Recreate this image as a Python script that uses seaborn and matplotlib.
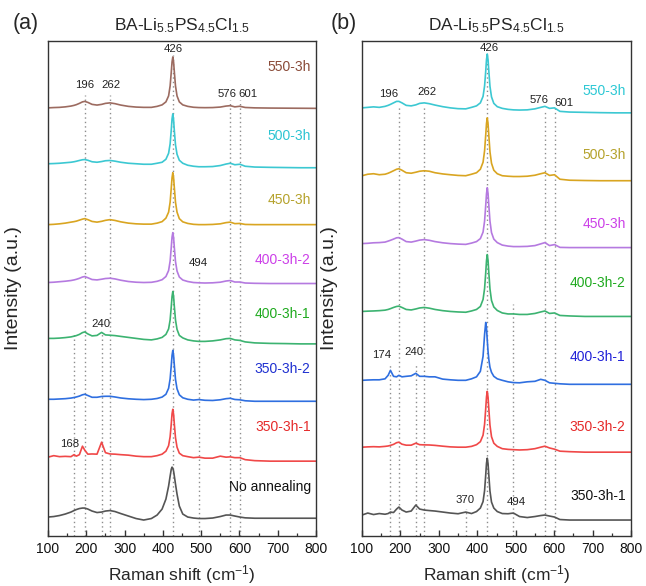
import matplotlib
matplotlib.use("Agg")
import numpy as np
import matplotlib.pyplot as plt
import seaborn as sns

# Raman shift grid (cm^-1) shared by every spectrum
raman_shift = [100, 115, 130, 145, 160, 168, 174, 182, 190, 196,
               204, 215, 228, 240, 250, 262, 275, 290, 310, 330,
               350, 370, 385, 398, 408, 415, 419, 422, 424, 426,
               428, 430, 433, 437, 443, 452, 465, 480, 494, 510,
               530, 550, 565, 576, 588, 601, 615, 640, 680, 720,
               760, 800]

# ---- BA-Li5.5PS4.5Cl1.5 spectra (intensity above each trace's own baseline, a.u.)
ba_550 = [0, 0.3, 0.5, 1, 1.8, 2.5, 3.2, 4.5, 6, 6.5,
          5.5, 3.5, 2.8, 3.5, 4.5, 5, 4.2, 2.8, 1.5, 0.8,
          0.5, 0.5, 1.5, 3, 6, 12, 22, 36, 46, 51,
          46, 36, 22, 12, 6, 3, 1.5, 0.6, 0.3, 0.2,
          0.3, 0.8, 1.8, 2.2, 1, 1.6, 0.4, 0, -0.2, -0.3,
          -0.4, -0.5]
ba_500 = [0, 0.2, 0.5, 1, 1.5, 2, 2.5, 3.3, 4, 4.2,
          3.5, 2, 1.5, 2.2, 3, 3.3, 2.6, 1.5, 0.5, 0,
          -0.5, -0.5, 0.5, 1.5, 4.5, 10.5, 20, 34, 45, 50,
          44, 33, 19, 9.5, 3.5, 0.5, -1.5, -2.5, -3, -3,
          -2.8, -1.8, -0.3, 0.5, -1, -0.5, -2.5, -3.3, -3.6, -3.8,
          -4, -4]
ba_450 = [0, 0.3, 0.8, 1.5, 2.5, 3, 3.5, 4.5, 5.5, 6,
          5, 3.2, 2.5, 3.3, 4.3, 5, 4.2, 2.8, 1.5, 0.8,
          0.5, 0.5, 1.5, 3, 6.5, 12.5, 22.5, 37, 47, 52,
          47, 37, 22.5, 12.5, 6, 2.8, 1.2, 0.3, 0, 0,
          0.2, 0.8, 2, 2.5, 1, 1.2, 0.2, 0, 0, 0,
          0, 0]
ba_400_2 = [0, 0.3, 0.8, 1.3, 2, 2.6, 3.2, 4.2, 5.5, 6,
            4.8, 3, 2.6, 3.3, 4, 4.3, 3.6, 2.3, 1, 0.3,
            0, 0.2, 1.2, 2.8, 6, 12, 21.5, 35.5, 45.5, 50,
            45, 35, 21, 11.5, 5.5, 2.5, 1, 0, -0.3, -0.5,
            -0.3, 0.3, 1.5, 2, 0.5, 0.5, -0.5, -0.8, -1, -1,
            -1, -1]
ba_400_1 = [0, 0, 0.3, 0.8, 1.5, 2.2, 2.8, 4, 5.8, 6.5,
            4.5, 2.5, 3, 6, 3.5, 3.2, 2.8, 2, 1, 0,
            -1, -1.5, -0.5, 1, 4, 9.5, 18.5, 32, 42, 47,
            42, 32, 18.5, 9, 3, 0.5, -1.5, -2.5, -3, -3,
            -2.5, -1.5, -0.3, 0, -1.5, -2, -3.5, -4.5, -5, -5.2,
            -5.5, -5.5]
ba_350_2 = [0, 0, 0.3, 0.6, 1.2, 1.8, 2.3, 3.2, 4.5, 5,
            3.8, 2, 2, 2.8, 3, 3, 2.3, 1.3, 0.5, 0,
            -0.3, 0, 0.8, 2.2, 5, 11, 20.5, 34, 44, 49,
            44, 34, 20, 10.5, 4.5, 1.5, 0, -0.8, -0.3, -1,
            -1.2, -0.5, 0.6, 1, -0.2, -0.5, -1.5, -2, -2, -2,
            -2, -2]
ba_350_1 = [0, 1.5, 0.5, 0.8, 0.5, 2.5, 1, 2.5, 11, 7,
            3, 3.2, 3, 15, 4.5, 3.2, 3, 2.5, 2, 1,
            0.5, 0.5, 1.5, 3, 6, 11.5, 20.5, 33.5, 43.5, 48,
            43, 33, 19.5, 10, 4, 1.5, 0.5, -0.5, 0, -1,
            -1, 1, 0, 0.3, -0.5, -0.5, -2.5, -3.5, -4, -4,
            -4, -4]
ba_raw = [0, 0.5, 1.5, 3, 5, 6.5, 7.5, 8.5, 9, 9,
          8, 6, 4.5, 5, 6, 6.5, 5.5, 3.5, 1, -1.5,
          -3, -1.5, 2, 8, 18, 31, 41, 48, 50, 49,
          46, 41, 33, 23, 11, 3, 0, -1, -1.5, -1.5,
          -1, 0.5, 2, 2, 1, 0, -0.8, -1.2, -1.2, -1.2,
          -1.2, -1.2]

# ---- DA-Li5.5PS4.5Cl1.5 spectra
da_550 = [0, 0.5, 1, 0.5, 1.5, 2.5, 3.5, 5, 6.5, 6.5,
          5, 2.5, 2, 3, 4.5, 5, 4.2, 2.8, 1.2, 0,
          -0.8, -1, 0.5, 2, 5, 11.5, 22, 37, 48.5, 54,
          48, 37, 21.5, 11, 4.5, 1.2, -0.5, -1.5, -2, -2.2,
          -2, -1, 0.5, 1.5, -0.5, 0, -3.5, -4.2, -4.5, -4.8,
          -5, -5]
da_500 = [0, 1.5, 2, 1, 1.5, 2.5, 3.5, 5, 6.5, 7,
          5.5, 3, 2.5, 3.5, 4.5, 5, 4.5, 3, 1.8, 1,
          0.3, 0, 1.5, 3, 6.5, 13.5, 25, 41, 52.5, 58,
          52, 40.5, 24, 12.5, 5.5, 2, 0, -0.5, -0.8, -0.8,
          -0.5, 0.5, 2, 3, 0.3, 1, -3.5, -4.5, -4.8, -5,
          -5, -5]
da_450 = [0, 0.3, 0.8, 1, 1.5, 2.5, 3.3, 4.5, 5.8, 6,
          4.5, 2, 1.5, 2.5, 3.5, 4, 3.3, 2, 0.8, 0,
          -0.5, -0.8, 0.5, 2, 5, 11.5, 22.5, 38.5, 50, 56,
          50, 38.5, 22.5, 11, 4.5, 1, -1.5, -2.5, -3, -3,
          -2.8, -2, -0.3, 1, -2, -1, -3.8, -4, -4, -4,
          -4, -4]
da_400_2 = [0, 0.3, 0.5, 0.8, 1.3, 2, 2.8, 4, 5, 5.3,
            4, 2, 1.5, 2.5, 3.5, 4, 3.3, 2, 0.8, 0,
            -0.5, -0.8, 0.5, 2, 5, 12, 23, 39, 51, 57,
            51, 39, 22.5, 11, 4.5, 1, -1.5, -2.5, -2.5, -3,
            -3, -2, -0.5, 0.5, -2, -1.5, -4, -4.5, -5, -5,
            -5, -5]
da_400_1 = [0, 0.3, 0.5, 0.5, 1.5, 5, 10, 4, 3.5, 5,
            3.5, 4, 4.5, 7, 4, 4, 3.5, 3.5, 1.2, 0.5,
            0, 0, 1.5, 3.5, 9, 24, 46, 58, 52, 40,
            29, 21, 13, 8, 4, 1.5, 0, -1.5, -2.3, -2.5,
            -1.5, -1, 1, 0, -2.5, -3, -3.5, -4, -4, -4,
            -4, -4]
da_350_2 = [0, 0.3, 0.5, 0.3, 0.8, 1.2, 1.8, 2.8, 4.5, 5,
            3, 2, 2, 4, 2.5, 2.3, 2.2, 1.8, 1, 0.3,
            0, 0, 0.8, 2.5, 5.5, 12, 23, 39, 50.5, 56,
            50, 38.5, 22, 10.5, 4, 0.8, -1.5, -2.2, -2.5, -2.8,
            -2.5, -1.5, 0, 1, -0.8, -2, -4, -4.5, -5, -5,
            -5, -5]
da_350_1 = [0, 2, 0.5, 1.5, 0.8, 1.5, 3, 2.5, 6, 8,
            5, 3, 4, 10, 6, 5, 4.5, 4, 3, 2,
            1.3, 3, 1.5, 3.5, 7, 13.5, 24.5, 40.5, 52, 57,
            51.5, 40, 24, 13, 7, 3.5, 1.5, 1.3, 2, -1.5,
            -2.5, -1.5, -0.5, 0, -1, -2, -4.5, -5, -5, -5,
            -5, -5]

# Sample names, stacking offsets and colours (top trace first)
ba_labels = ["550-3h", "500-3h", "450-3h", "400-3h-2",
             "400-3h-1", "350-3h-2", "350-3h-1", "No annealing"]
ba_spectra = [ba_550, ba_500, ba_450, ba_400_2, ba_400_1, ba_350_2, ba_350_1, ba_raw]
ba_offsets = [429, 373, 312, 254, 198, 137, 79, 19]
ba_label_y = [470, 401, 337, 277, 222, 167, 109, 49]
ba_line_colors = ["#9c6b60", "#3cc8d2", "#d9a521", "#b57ae0",
                  "#3cb371", "#2f6fe0", "#f04848", "#555555"]
ba_text_colors = ["#8a4b38", "#2cc4d2", "#b5a22c", "#cc40e8",
                  "#1faa1f", "#1f30d0", "#e52a2a", "#111111"]

da_labels = ["550-3h", "500-3h", "450-3h", "400-3h-2",
             "400-3h-1", "350-3h-2", "350-3h-1"]
da_spectra = [da_550, da_500, da_450, da_400_2, da_400_1, da_350_2, da_350_1]
da_offsets = [429, 361, 293, 225, 156, 89, 21]
da_label_y = [446, 382, 313, 254, 179, 109, 40]
da_line_colors = ["#3cc8d2", "#d9a521", "#b57ae0", "#3cb371",
                  "#2f6fe0", "#f04848", "#555555"]
da_text_colors = ["#2cc8d4", "#b5a22c", "#cc40e8", "#1faa1f",
                  "#2020d8", "#e52a2a", "#111111"]

# Assigned bands: dotted guide lines and their labels
ba_band_x = [168, 196, 240, 262, 426, 494, 576, 601]
ba_band_top = [202, 442, 202, 442, 482, 267, 437, 437]
ba_peak_text = ["426", "196", "262", "576", "601", "494", "240", "168"]
ba_peak_x = [426, 196, 264, 567, 623, 492, 238, 157]
ba_peak_y = [488, 452, 452, 443, 443, 274, 212, 92]

da_band_x = [174, 196, 240, 262, 370, 426, 494, 576, 601]
da_band_top = [172, 432, 172, 432, 27, 482, 232, 425, 429]
da_peak_text = ["426", "196", "262", "576", "601", "174", "240", "370", "494"]
da_peak_x = [431, 170, 269, 561, 626, 152, 235, 368, 501]
da_peak_y = [489, 443, 445, 437, 434, 181, 184, 36, 34]

sns.set_theme(style="ticks")
plt.rcParams.update({
    "font.family": ["Liberation Sans", "DejaVu Sans"],
    "mathtext.fontset": "custom",
    "mathtext.rm": "Liberation Sans",
    "mathtext.it": "Liberation Sans:italic",
    "mathtext.bf": "Liberation Sans:bold",
    "axes.edgecolor": "#333333",
    "axes.linewidth": 1.0,
    "xtick.color": "#333333",
    "xtick.labelcolor": "#111111",
})

x = np.asarray(raman_shift, dtype=float)
fig = plt.figure(figsize=(6.46, 5.86), dpi=100)
ax_a = fig.add_axes([48 / 646, 50 / 586, 268 / 646, 495 / 586])
ax_b = fig.add_axes([362 / 646, 50 / 586, 269 / 646, 495 / 586])


def draw_panel(ax, spectra, offsets, labels, label_y, line_colors, text_colors,
               band_x, band_top, peak_text, peak_x, peak_y, title):
    ax.vlines(band_x, 0, band_top, colors="#8c8c8c",
              linestyles=(0, (1, 2.2)), linewidth=1.0, zorder=1)
    for spec, off, col in zip(spectra, offsets, line_colors):
        y = np.asarray(spec, dtype=float) + off
        sns.lineplot(x=x, y=y, ax=ax, color=col, linewidth=1.2,
                     estimator=None, sort=False, legend=False, zorder=2)
    for lab, ly, tc in zip(labels, label_y, text_colors):
        ax.text(786, ly, lab, color=tc, fontsize=10, ha="right", va="center", zorder=3)
    for t, px, py in zip(peak_text, peak_x, peak_y):
        ax.text(px, py, t, color="#222222", fontsize=8.2, ha="center", va="center", zorder=3)
    ax.set_xlim(100, 800)
    ax.set_ylim(0, 496)
    ax.set_xticks(range(100, 801, 100))
    ax.set_xticks(range(150, 800, 100), minor=True)
    ax.set_yticks([])
    ax.tick_params(axis="x", which="major", direction="in", length=4, width=1,
                   labelsize=10, pad=4)
    ax.tick_params(axis="x", which="minor", direction="in", length=2.5, width=0.9)
    for s in ax.spines.values():
        s.set_visible(True)
    ax.set_xlabel("Raman shift (cm$^{-1}$)", fontsize=12.5)
    ax.xaxis.set_label_coords(0.5, -27 / 495)
    ax.set_ylabel("Intensity (a.u.)", fontsize=14)
    ax.set_title(title, fontsize=12.5, pad=8)


draw_panel(ax_a, ba_spectra, ba_offsets, ba_labels, ba_label_y, ba_line_colors,
           ba_text_colors, ba_band_x, ba_band_top, ba_peak_text, ba_peak_x, ba_peak_y,
           "BA-Li$_{5.5}$PS$_{4.5}$Cl$_{1.5}$")
draw_panel(ax_b, da_spectra, da_offsets, da_labels, da_label_y, da_line_colors,
           da_text_colors, da_band_x, da_band_top, da_peak_text, da_peak_x, da_peak_y,
           "DA-Li$_{5.5}$PS$_{4.5}$Cl$_{1.5}$")
ax_a.yaxis.set_label_coords(-26 / 268, 0.5)
ax_b.yaxis.set_label_coords(-24 / 269, 0.5)

fig.text(13 / 646, 1 - 23 / 586, "(a)", fontsize=15.5, ha="left", va="center")
fig.text(331 / 646, 1 - 23 / 586, "(b)", fontsize=15.5, ha="left", va="center")

fig.savefig("out.png", dpi=100)
